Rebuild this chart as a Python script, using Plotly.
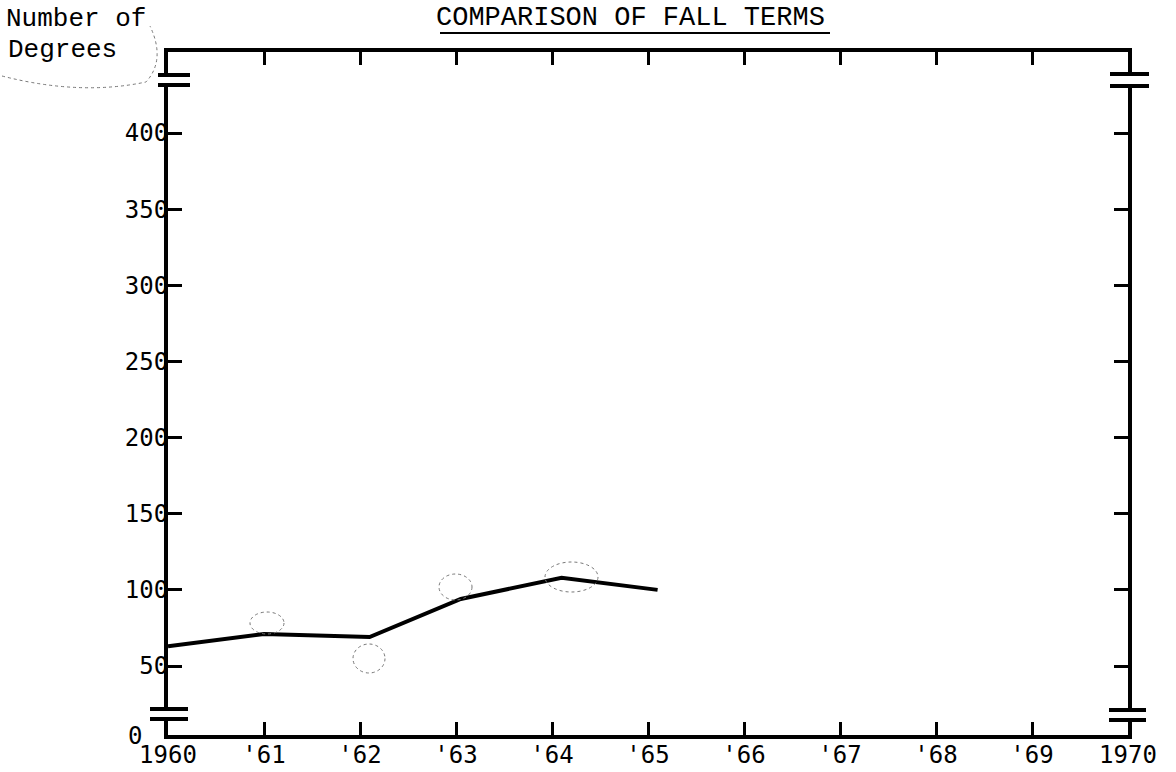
import plotly.graph_objects as go

# ---- data ----
years = [1960, 1961.0, 1962.1, 1963.05, 1964.1, 1965.1]
degrees = [63, 71, 69, 94, 108, 100]

x_tickvals = [1960, 1961, 1962, 1963, 1964, 1965, 1966, 1967, 1968, 1969, 1970]
x_ticktext = ["1960", "'61", "'62", "'63", "'64", "'65", "'66", "'67", "'68", "'69", "1970"]
y_tickvals = [50, 100, 150, 200, 250, 300, 350, 400]
y_ticktext = ["50", "100", "150", "200", "250", "300", "350", "400"]

title_text = "COMPARISON OF FALL TERMS"
ylabel_lines = ["Number of", "Degrees"]

# ---- layout geometry (pixels) ----
W, H = 1176, 772
L, R, T, B = 168, 1128, 52, 735


def px(x):
    return (x - L) / (R - L)


def py(y):
    return (B - y) / (B - T)


fig = go.Figure()
fig.add_trace(go.Scatter(
    x=years, y=degrees, mode="lines",
    line=dict(color="black", width=4),
    hoverinfo="skip", showlegend=False,
))

tick_font = dict(family="DejaVu Sans Mono", size=24, color="black")
type_font = dict(family="Liberation Mono, Courier New, monospace", size=27, color="black")
label_font = dict(family="Liberation Mono, Courier New, monospace", size=26, color="black")

shapes = []
# axis breaks: white gap + two bars
for (xa, xb, y1, y2, axx) in [
    (158, 190, 75, 85, L),
    (150, 188, 709, 719, L),
    (1110, 1149, 74, 86, R),
    (1109, 1146, 710, 720, R),
]:
    shapes.append(dict(type="rect", xref="paper", yref="paper",
                       x0=px(axx - 4), x1=px(axx + 4), y0=py(y2 - 1), y1=py(y1 + 1),
                       fillcolor="white", line=dict(width=0), layer="above"))
    for yy in (y1, y2):
        shapes.append(dict(type="line", xref="paper", yref="paper",
                           x0=px(xa), x1=px(xb), y0=py(yy), y1=py(yy),
                           line=dict(color="black", width=4), layer="above"))

# title underline
shapes.append(dict(type="line", xref="paper", yref="paper",
                   x0=px(440), x1=px(830), y0=py(33), y1=py(33),
                   line=dict(color="black", width=2), layer="above"))

# faint pencil circles
for (x0, y0, x1, y1) in [
    (250, 612, 284, 634), (353, 644, 385, 673), (439, 574, 472, 600),
    (545, 562, 598, 592),
]:
    shapes.append(dict(type="circle", xref="paper", yref="paper",
                       x0=px(x0), x1=px(x1), y0=py(y1), y1=py(y0),
                       line=dict(color="#777777", width=1, dash="dot"), layer="above"))

# pencil arc around the axis label
arc = "M {},{} Q {},{} {},{} Q {},{} {},{}".format(
    px(2), py(76), px(80), py(96), px(146), py(82), px(166), py(60), px(150), py(26))
shapes.append(dict(type="path", xref="paper", yref="paper", path=arc,
                   line=dict(color="#777777", width=1, dash="dot"), layer="above"))

annotations = [
    dict(text=title_text, xref="paper", yref="paper", x=px(630), y=py(18),
         xanchor="center", yanchor="middle", showarrow=False, font=type_font),
    dict(text=ylabel_lines[0], xref="paper", yref="paper", x=px(4), y=py(19),
         xanchor="left", yanchor="middle", showarrow=False, font=label_font),
    dict(text=ylabel_lines[1], xref="paper", yref="paper", x=px(6), y=py(50),
         xanchor="left", yanchor="middle", showarrow=False, font=label_font),
    dict(text="0", xref="paper", yref="paper", x=px(144), y=py(736),
         xanchor="right", yanchor="middle", showarrow=False, font=tick_font),
]

fig.update_layout(
    width=W, height=H,
    margin=dict(l=L, r=W - R, t=T, b=H - B, pad=0, autoexpand=False),
    paper_bgcolor="white", plot_bgcolor="white",
    shapes=shapes, annotations=annotations,
    xaxis=dict(
        range=[1960, 1970], tickvals=x_tickvals, ticktext=x_ticktext,
        showgrid=False, zeroline=False, automargin=False,
        showline=True, linecolor="black", linewidth=4, mirror="ticks",
        ticks="inside", ticklen=13, tickwidth=3, tickcolor="black",
        tickfont=tick_font, ticklabelstandoff=-5,
    ),
    yaxis=dict(
        range=[4.7, 453.2], tickvals=y_tickvals, ticktext=y_ticktext,
        showgrid=False, zeroline=False, automargin=False,
        showline=True, linecolor="black", linewidth=4, mirror="ticks",
        ticks="inside", ticklen=14, tickwidth=3, tickcolor="black",
        tickfont=tick_font, ticklabelstandoff=-9,
    ),
)

fig.write_html(
    "out.html",
    config={"displayModeBar": False},
    post_script="document.body.style.margin='0';document.body.style.overflow='hidden';",
)
